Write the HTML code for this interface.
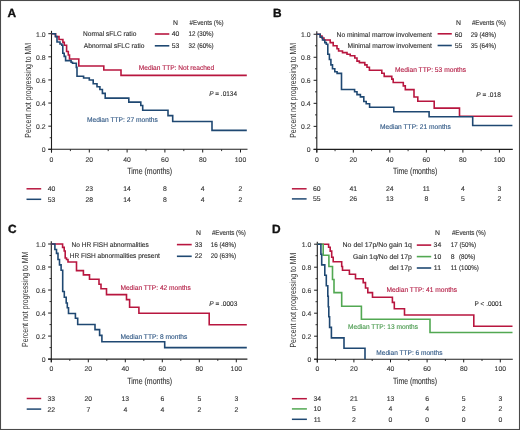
<!DOCTYPE html>
<html><head><meta charset="utf-8"><title>Figure</title>
<style>
html,body{margin:0;padding:0;background:#fff;}
body{width:520px;height:430px;overflow:hidden;}
svg{display:block;font-family:"Liberation Sans", sans-serif;will-change:transform;}
text{text-rendering:geometricPrecision;}
</style></head><body>
<svg width="520" height="430" viewBox="0 0 520 430">
<rect x="0" y="0" width="520" height="430" fill="#fff"/>
<rect x="0.5" y="0.5" width="519" height="429" fill="none" stroke="#4a4a4a" stroke-width="1.1"/>
<text x="7.4" y="17.0" font-size="11.9" fill="#111" font-weight="bold" stroke="#111" stroke-width="0.35">A</text>
<line x1="51.5" y1="30.8" x2="51.5" y2="152.5" stroke="#1e1e1e" stroke-width="1.1"/>
<line x1="48.3" y1="149.3" x2="247.5" y2="149.3" stroke="#1e1e1e" stroke-width="1.1"/>
<line x1="48.3" y1="149.3" x2="51.5" y2="149.3" stroke="#1e1e1e" stroke-width="1.0"/>
<text x="45.6" y="152.2" font-size="6.85" fill="#3a3a3a" stroke="#3a3a3a" stroke-width="0.12" text-anchor="end">0</text>
<line x1="49.7" y1="137.74" x2="51.5" y2="137.74" stroke="#1e1e1e" stroke-width="0.9"/>
<line x1="48.3" y1="126.18" x2="51.5" y2="126.18" stroke="#1e1e1e" stroke-width="1.0"/>
<text x="45.6" y="129.08" font-size="6.85" fill="#3a3a3a" stroke="#3a3a3a" stroke-width="0.12" text-anchor="end">0.2</text>
<line x1="49.7" y1="114.62" x2="51.5" y2="114.62" stroke="#1e1e1e" stroke-width="0.9"/>
<line x1="48.3" y1="103.06" x2="51.5" y2="103.06" stroke="#1e1e1e" stroke-width="1.0"/>
<text x="45.6" y="105.96" font-size="6.85" fill="#3a3a3a" stroke="#3a3a3a" stroke-width="0.12" text-anchor="end">0.4</text>
<line x1="49.7" y1="91.5" x2="51.5" y2="91.5" stroke="#1e1e1e" stroke-width="0.9"/>
<line x1="48.3" y1="79.94" x2="51.5" y2="79.94" stroke="#1e1e1e" stroke-width="1.0"/>
<text x="45.6" y="82.84" font-size="6.85" fill="#3a3a3a" stroke="#3a3a3a" stroke-width="0.12" text-anchor="end">0.6</text>
<line x1="49.7" y1="68.38" x2="51.5" y2="68.38" stroke="#1e1e1e" stroke-width="0.9"/>
<line x1="48.3" y1="56.82" x2="51.5" y2="56.82" stroke="#1e1e1e" stroke-width="1.0"/>
<text x="45.6" y="59.72" font-size="6.85" fill="#3a3a3a" stroke="#3a3a3a" stroke-width="0.12" text-anchor="end">0.8</text>
<line x1="49.7" y1="45.26" x2="51.5" y2="45.26" stroke="#1e1e1e" stroke-width="0.9"/>
<line x1="48.3" y1="33.7" x2="51.5" y2="33.7" stroke="#1e1e1e" stroke-width="1.0"/>
<text x="45.6" y="36.6" font-size="6.85" fill="#3a3a3a" stroke="#3a3a3a" stroke-width="0.12" text-anchor="end">1.0</text>
<line x1="51.5" y1="149.3" x2="51.5" y2="152.5" stroke="#1e1e1e" stroke-width="1.0"/>
<text x="51.5" y="161.6" font-size="6.85" fill="#3a3a3a" stroke="#3a3a3a" stroke-width="0.12" text-anchor="middle">0</text>
<line x1="70.4" y1="149.3" x2="70.4" y2="151.1" stroke="#1e1e1e" stroke-width="0.9"/>
<line x1="89.3" y1="149.3" x2="89.3" y2="152.5" stroke="#1e1e1e" stroke-width="1.0"/>
<text x="89.3" y="161.6" font-size="6.85" fill="#3a3a3a" stroke="#3a3a3a" stroke-width="0.12" text-anchor="middle">20</text>
<line x1="108.2" y1="149.3" x2="108.2" y2="151.1" stroke="#1e1e1e" stroke-width="0.9"/>
<line x1="127.1" y1="149.3" x2="127.1" y2="152.5" stroke="#1e1e1e" stroke-width="1.0"/>
<text x="127.1" y="161.6" font-size="6.85" fill="#3a3a3a" stroke="#3a3a3a" stroke-width="0.12" text-anchor="middle">40</text>
<line x1="146.0" y1="149.3" x2="146.0" y2="151.1" stroke="#1e1e1e" stroke-width="0.9"/>
<line x1="164.9" y1="149.3" x2="164.9" y2="152.5" stroke="#1e1e1e" stroke-width="1.0"/>
<text x="164.9" y="161.6" font-size="6.85" fill="#3a3a3a" stroke="#3a3a3a" stroke-width="0.12" text-anchor="middle">60</text>
<line x1="183.8" y1="149.3" x2="183.8" y2="151.1" stroke="#1e1e1e" stroke-width="0.9"/>
<line x1="202.7" y1="149.3" x2="202.7" y2="152.5" stroke="#1e1e1e" stroke-width="1.0"/>
<text x="202.7" y="161.6" font-size="6.85" fill="#3a3a3a" stroke="#3a3a3a" stroke-width="0.12" text-anchor="middle">80</text>
<line x1="221.6" y1="149.3" x2="221.6" y2="151.1" stroke="#1e1e1e" stroke-width="0.9"/>
<line x1="240.5" y1="149.3" x2="240.5" y2="152.5" stroke="#1e1e1e" stroke-width="1.0"/>
<text x="240.5" y="161.6" font-size="6.85" fill="#3a3a3a" stroke="#3a3a3a" stroke-width="0.12" text-anchor="middle">100</text>
<text x="149.7" y="173.7" font-size="8.9" fill="#333" stroke="#333" stroke-width="0.12" text-anchor="middle" textLength="44.8" lengthAdjust="spacingAndGlyphs">Time (months)</text>
<text x="0" y="0" transform="translate(30.6,90.3) rotate(-90)" font-size="8.9" fill="#333" text-anchor="middle" textLength="94.8" lengthAdjust="spacingAndGlyphs">Percent not progressing to MM</text>
<path d="M51.5,33.7H55.6V36.6H59V39.5H62.9V42.4H64.3V45.3H66.6V51.5H68.3V55H69.5V59H78.8V66H103.8V70H121V75.4H246.8" fill="none" stroke="#b8163f" stroke-width="1.6" stroke-linejoin="miter" stroke-linecap="butt"/>
<path d="M51.5,33.7H55.4V36.5H57V42H60V44H61.8V45.2H62.8V53.2H64.2V56.4H65.6V60.6H71.1V62.2H72.5V63.2H76.3V67.4H77V76.3H83.6V78H89.3V80H93.2V83.8H97V86.7H99.9V89.5H102.4V93.4H105.2V98.1H128.8V102.1H140.8V105.5H142.7V110.2H168V115.6H172.7V121.5H212V130.4H246.8" fill="none" stroke="#1f4872" stroke-width="1.6" stroke-linejoin="miter" stroke-linecap="butt"/>
<text x="175.6" y="24.7" font-size="6.85" fill="#2e2e2e" stroke="#2e2e2e" stroke-width="0.12" text-anchor="middle">N</text>
<text x="189.6" y="24.7" font-size="6.85" fill="#2e2e2e" stroke="#2e2e2e" stroke-width="0.12" textLength="33.9" lengthAdjust="spacingAndGlyphs">#Events (%)</text>
<text x="83.0" y="36.1" font-size="6.85" fill="#2e2e2e" stroke="#2e2e2e" stroke-width="0.12" textLength="53.3" lengthAdjust="spacingAndGlyphs">Normal sFLC ratio</text>
<line x1="154.8" y1="34.0" x2="169.3" y2="34.0" stroke="#b8163f" stroke-width="1.6"/>
<text x="175.6" y="36.1" font-size="6.85" fill="#2e2e2e" stroke="#2e2e2e" stroke-width="0.12" text-anchor="middle">40</text>
<text x="188.5" y="36.1" font-size="6.85" fill="#2e2e2e" stroke="#2e2e2e" stroke-width="0.12" textLength="25.2" lengthAdjust="spacingAndGlyphs">12 (30%)</text>
<text x="83.8" y="48.0" font-size="6.85" fill="#2e2e2e" stroke="#2e2e2e" stroke-width="0.12" textLength="60.6" lengthAdjust="spacingAndGlyphs">Abnormal sFLC ratio</text>
<line x1="154.8" y1="45.8" x2="169.3" y2="45.8" stroke="#1f4872" stroke-width="1.6"/>
<text x="175.6" y="48.0" font-size="6.85" fill="#2e2e2e" stroke="#2e2e2e" stroke-width="0.12" text-anchor="middle">53</text>
<text x="188.5" y="48.0" font-size="6.85" fill="#2e2e2e" stroke="#2e2e2e" stroke-width="0.12" textLength="25.2" lengthAdjust="spacingAndGlyphs">32 (60%)</text>
<text x="138.8" y="70.4" font-size="6.85" fill="#b31b43" stroke="#b31b43" stroke-width="0.12" textLength="75.4" lengthAdjust="spacingAndGlyphs">Median TTP: Not reached</text>
<text x="86.9" y="121.6" font-size="6.85" fill="#2f5784" stroke="#2f5784" stroke-width="0.12" textLength="71.0" lengthAdjust="spacingAndGlyphs">Median TTP: 27 months</text>
<text x="209.2" y="95.8" font-size="6.85" fill="#2e2e2e" stroke="#2e2e2e" stroke-width="0.12" textLength="27.8" lengthAdjust="spacingAndGlyphs"><tspan font-style="italic">P</tspan> = .0134</text>
<line x1="26.5" y1="188.8" x2="41.2" y2="188.8" stroke="#b8163f" stroke-width="1.5"/>
<text x="51.5" y="191.2" font-size="6.85" fill="#333" stroke="#333" stroke-width="0.12" text-anchor="middle">40</text>
<text x="89.3" y="191.2" font-size="6.85" fill="#333" stroke="#333" stroke-width="0.12" text-anchor="middle">23</text>
<text x="127.1" y="191.2" font-size="6.85" fill="#333" stroke="#333" stroke-width="0.12" text-anchor="middle">14</text>
<text x="164.9" y="191.2" font-size="6.85" fill="#333" stroke="#333" stroke-width="0.12" text-anchor="middle">8</text>
<text x="202.7" y="191.2" font-size="6.85" fill="#333" stroke="#333" stroke-width="0.12" text-anchor="middle">4</text>
<text x="240.5" y="191.2" font-size="6.85" fill="#333" stroke="#333" stroke-width="0.12" text-anchor="middle">2</text>
<line x1="26.5" y1="199.3" x2="41.2" y2="199.3" stroke="#1f4872" stroke-width="1.5"/>
<text x="51.5" y="201.7" font-size="6.85" fill="#333" stroke="#333" stroke-width="0.12" text-anchor="middle">53</text>
<text x="89.3" y="201.7" font-size="6.85" fill="#333" stroke="#333" stroke-width="0.12" text-anchor="middle">28</text>
<text x="127.1" y="201.7" font-size="6.85" fill="#333" stroke="#333" stroke-width="0.12" text-anchor="middle">14</text>
<text x="164.9" y="201.7" font-size="6.85" fill="#333" stroke="#333" stroke-width="0.12" text-anchor="middle">8</text>
<text x="202.7" y="201.7" font-size="6.85" fill="#333" stroke="#333" stroke-width="0.12" text-anchor="middle">4</text>
<text x="240.5" y="201.7" font-size="6.85" fill="#333" stroke="#333" stroke-width="0.12" text-anchor="middle">2</text>
<text x="273.0" y="17.0" font-size="11.9" fill="#111" font-weight="bold" stroke="#111" stroke-width="0.35">B</text>
<line x1="316.8" y1="31.2" x2="316.8" y2="152.6" stroke="#1e1e1e" stroke-width="1.1"/>
<line x1="313.6" y1="149.4" x2="512.8" y2="149.4" stroke="#1e1e1e" stroke-width="1.1"/>
<line x1="313.6" y1="149.4" x2="316.8" y2="149.4" stroke="#1e1e1e" stroke-width="1.0"/>
<text x="310.6" y="152.3" font-size="6.85" fill="#3a3a3a" stroke="#3a3a3a" stroke-width="0.12" text-anchor="end">0</text>
<line x1="315.0" y1="137.88" x2="316.8" y2="137.88" stroke="#1e1e1e" stroke-width="0.9"/>
<line x1="313.6" y1="126.37" x2="316.8" y2="126.37" stroke="#1e1e1e" stroke-width="1.0"/>
<text x="310.6" y="129.27" font-size="6.85" fill="#3a3a3a" stroke="#3a3a3a" stroke-width="0.12" text-anchor="end">0.2</text>
<line x1="315.0" y1="114.86" x2="316.8" y2="114.86" stroke="#1e1e1e" stroke-width="0.9"/>
<line x1="313.6" y1="103.34" x2="316.8" y2="103.34" stroke="#1e1e1e" stroke-width="1.0"/>
<text x="310.6" y="106.24" font-size="6.85" fill="#3a3a3a" stroke="#3a3a3a" stroke-width="0.12" text-anchor="end">0.4</text>
<line x1="315.0" y1="91.83" x2="316.8" y2="91.83" stroke="#1e1e1e" stroke-width="0.9"/>
<line x1="313.6" y1="80.31" x2="316.8" y2="80.31" stroke="#1e1e1e" stroke-width="1.0"/>
<text x="310.6" y="83.21" font-size="6.85" fill="#3a3a3a" stroke="#3a3a3a" stroke-width="0.12" text-anchor="end">0.6</text>
<line x1="315.0" y1="68.8" x2="316.8" y2="68.8" stroke="#1e1e1e" stroke-width="0.9"/>
<line x1="313.6" y1="57.28" x2="316.8" y2="57.28" stroke="#1e1e1e" stroke-width="1.0"/>
<text x="310.6" y="60.18" font-size="6.85" fill="#3a3a3a" stroke="#3a3a3a" stroke-width="0.12" text-anchor="end">0.8</text>
<line x1="315.0" y1="45.77" x2="316.8" y2="45.77" stroke="#1e1e1e" stroke-width="0.9"/>
<line x1="313.6" y1="34.25" x2="316.8" y2="34.25" stroke="#1e1e1e" stroke-width="1.0"/>
<text x="310.6" y="37.15" font-size="6.85" fill="#3a3a3a" stroke="#3a3a3a" stroke-width="0.12" text-anchor="end">1.0</text>
<line x1="316.8" y1="149.4" x2="316.8" y2="152.6" stroke="#1e1e1e" stroke-width="1.0"/>
<text x="316.8" y="161.7" font-size="6.85" fill="#3a3a3a" stroke="#3a3a3a" stroke-width="0.12" text-anchor="middle">0</text>
<line x1="335.06" y1="149.4" x2="335.06" y2="151.2" stroke="#1e1e1e" stroke-width="0.9"/>
<line x1="353.32" y1="149.4" x2="353.32" y2="152.6" stroke="#1e1e1e" stroke-width="1.0"/>
<text x="353.32" y="161.7" font-size="6.85" fill="#3a3a3a" stroke="#3a3a3a" stroke-width="0.12" text-anchor="middle">20</text>
<line x1="371.58" y1="149.4" x2="371.58" y2="151.2" stroke="#1e1e1e" stroke-width="0.9"/>
<line x1="389.84" y1="149.4" x2="389.84" y2="152.6" stroke="#1e1e1e" stroke-width="1.0"/>
<text x="389.84" y="161.7" font-size="6.85" fill="#3a3a3a" stroke="#3a3a3a" stroke-width="0.12" text-anchor="middle">40</text>
<line x1="408.1" y1="149.4" x2="408.1" y2="151.2" stroke="#1e1e1e" stroke-width="0.9"/>
<line x1="426.36" y1="149.4" x2="426.36" y2="152.6" stroke="#1e1e1e" stroke-width="1.0"/>
<text x="426.36" y="161.7" font-size="6.85" fill="#3a3a3a" stroke="#3a3a3a" stroke-width="0.12" text-anchor="middle">60</text>
<line x1="444.62" y1="149.4" x2="444.62" y2="151.2" stroke="#1e1e1e" stroke-width="0.9"/>
<line x1="462.88" y1="149.4" x2="462.88" y2="152.6" stroke="#1e1e1e" stroke-width="1.0"/>
<text x="462.88" y="161.7" font-size="6.85" fill="#3a3a3a" stroke="#3a3a3a" stroke-width="0.12" text-anchor="middle">80</text>
<line x1="481.14" y1="149.4" x2="481.14" y2="151.2" stroke="#1e1e1e" stroke-width="0.9"/>
<line x1="499.4" y1="149.4" x2="499.4" y2="152.6" stroke="#1e1e1e" stroke-width="1.0"/>
<text x="499.4" y="161.7" font-size="6.85" fill="#3a3a3a" stroke="#3a3a3a" stroke-width="0.12" text-anchor="middle">100</text>
<text x="415.2" y="174.0" font-size="8.9" fill="#333" stroke="#333" stroke-width="0.12" text-anchor="middle" textLength="44.2" lengthAdjust="spacingAndGlyphs">Time (months)</text>
<text x="0" y="0" transform="translate(295.8,90.4) rotate(-90)" font-size="8.9" fill="#333" text-anchor="middle" textLength="94.8" lengthAdjust="spacingAndGlyphs">Percent not progressing to MM</text>
<path d="M316.8,34.25H320.2V36H322V38H324V40H330.2V42.6H333.2V45.7H337V48.8H338.6V51H342.5V52.6H347V54.2H350.2V55.7H354.8V58H357V61.1H359.4V62.6H364.8V64.9H367V67.2H369.4V70.3H381.8V73.2H384.2V76.4H391.8V79.1H393.2V82.5H403.3V85.9H405.3V89.6H414V97H417.8V101.3H434.2V108.1H459.5V116.2H512.4" fill="none" stroke="#b8163f" stroke-width="1.6" stroke-linejoin="miter" stroke-linecap="butt"/>
<path d="M316.8,34.25H320.2V37.2H322.5V40H324.8V42.6H326.3V44.2H327.8V54.2H329.4V59.5H330.9V64.9H332.5V68.8H334.8V71.8H337.1V73.4H341.5V89.5H354.6V91.8H357V94.6H360.4V96.9H363.8V101.5H366.2V103.8H369.6V107.3H393.8V111.7H429.1V116.8H472.7V125.5H512.4" fill="none" stroke="#1f4872" stroke-width="1.6" stroke-linejoin="miter" stroke-linecap="butt"/>
<text x="458.6" y="24.7" font-size="6.85" fill="#2e2e2e" stroke="#2e2e2e" stroke-width="0.12" text-anchor="middle">N</text>
<text x="471.9" y="24.7" font-size="6.85" fill="#2e2e2e" stroke="#2e2e2e" stroke-width="0.12" textLength="33.9" lengthAdjust="spacingAndGlyphs">#Events (%)</text>
<text x="431.8" y="36.5" font-size="6.85" fill="#2e2e2e" stroke="#2e2e2e" stroke-width="0.12" text-anchor="end" textLength="95.2" lengthAdjust="spacingAndGlyphs">No minimal marrow involvement</text>
<line x1="437.6" y1="33.8" x2="451.8" y2="33.8" stroke="#b8163f" stroke-width="1.6"/>
<text x="458.6" y="36.5" font-size="6.85" fill="#2e2e2e" stroke="#2e2e2e" stroke-width="0.12" text-anchor="middle">60</text>
<text x="470.8" y="36.5" font-size="6.85" fill="#2e2e2e" stroke="#2e2e2e" stroke-width="0.12" textLength="25.2" lengthAdjust="spacingAndGlyphs">29 (48%)</text>
<text x="431.8" y="48.0" font-size="6.85" fill="#2e2e2e" stroke="#2e2e2e" stroke-width="0.12" text-anchor="end" textLength="84.2" lengthAdjust="spacingAndGlyphs">Minimal marrow involvement</text>
<line x1="437.6" y1="45.5" x2="451.8" y2="45.5" stroke="#1f4872" stroke-width="1.6"/>
<text x="458.6" y="48.0" font-size="6.85" fill="#2e2e2e" stroke="#2e2e2e" stroke-width="0.12" text-anchor="middle">55</text>
<text x="470.8" y="48.0" font-size="6.85" fill="#2e2e2e" stroke="#2e2e2e" stroke-width="0.12" textLength="25.2" lengthAdjust="spacingAndGlyphs">35 (64%)</text>
<text x="395.0" y="71.8" font-size="6.85" fill="#b31b43" stroke="#b31b43" stroke-width="0.12" textLength="71.0" lengthAdjust="spacingAndGlyphs">Median TTP: 53 months</text>
<text x="380.0" y="128.5" font-size="6.85" fill="#2f5784" stroke="#2f5784" stroke-width="0.12" textLength="70.8" lengthAdjust="spacingAndGlyphs">Median TTP: 21 months</text>
<text x="476.2" y="96.9" font-size="6.85" fill="#2e2e2e" stroke="#2e2e2e" stroke-width="0.12" textLength="24.6" lengthAdjust="spacingAndGlyphs"><tspan font-style="italic">P</tspan> = .018</text>
<line x1="291.9" y1="188.8" x2="306.6" y2="188.8" stroke="#b8163f" stroke-width="1.5"/>
<text x="316.8" y="191.2" font-size="6.85" fill="#333" stroke="#333" stroke-width="0.12" text-anchor="middle">60</text>
<text x="353.32" y="191.2" font-size="6.85" fill="#333" stroke="#333" stroke-width="0.12" text-anchor="middle">41</text>
<text x="389.84" y="191.2" font-size="6.85" fill="#333" stroke="#333" stroke-width="0.12" text-anchor="middle">24</text>
<text x="426.36" y="191.2" font-size="6.85" fill="#333" stroke="#333" stroke-width="0.12" text-anchor="middle">11</text>
<text x="462.88" y="191.2" font-size="6.85" fill="#333" stroke="#333" stroke-width="0.12" text-anchor="middle">4</text>
<text x="499.4" y="191.2" font-size="6.85" fill="#333" stroke="#333" stroke-width="0.12" text-anchor="middle">3</text>
<line x1="291.9" y1="198.9" x2="306.6" y2="198.9" stroke="#1f4872" stroke-width="1.5"/>
<text x="316.8" y="201.3" font-size="6.85" fill="#333" stroke="#333" stroke-width="0.12" text-anchor="middle">55</text>
<text x="353.32" y="201.3" font-size="6.85" fill="#333" stroke="#333" stroke-width="0.12" text-anchor="middle">26</text>
<text x="389.84" y="201.3" font-size="6.85" fill="#333" stroke="#333" stroke-width="0.12" text-anchor="middle">13</text>
<text x="426.36" y="201.3" font-size="6.85" fill="#333" stroke="#333" stroke-width="0.12" text-anchor="middle">8</text>
<text x="462.88" y="201.3" font-size="6.85" fill="#333" stroke="#333" stroke-width="0.12" text-anchor="middle">5</text>
<text x="499.4" y="201.3" font-size="6.85" fill="#333" stroke="#333" stroke-width="0.12" text-anchor="middle">2</text>
<text x="7.9" y="232.9" font-size="11.9" fill="#111" font-weight="bold" stroke="#111" stroke-width="0.35">C</text>
<line x1="51.3" y1="241.2" x2="51.3" y2="362.3" stroke="#1e1e1e" stroke-width="1.1"/>
<line x1="48.1" y1="359.1" x2="247.4" y2="359.1" stroke="#1e1e1e" stroke-width="1.1"/>
<line x1="48.1" y1="359.1" x2="51.3" y2="359.1" stroke="#1e1e1e" stroke-width="1.0"/>
<text x="45.6" y="362.0" font-size="6.85" fill="#3a3a3a" stroke="#3a3a3a" stroke-width="0.12" text-anchor="end">0</text>
<line x1="49.5" y1="347.59" x2="51.3" y2="347.59" stroke="#1e1e1e" stroke-width="0.9"/>
<line x1="48.1" y1="336.08" x2="51.3" y2="336.08" stroke="#1e1e1e" stroke-width="1.0"/>
<text x="45.6" y="338.98" font-size="6.85" fill="#3a3a3a" stroke="#3a3a3a" stroke-width="0.12" text-anchor="end">0.2</text>
<line x1="49.5" y1="324.57" x2="51.3" y2="324.57" stroke="#1e1e1e" stroke-width="0.9"/>
<line x1="48.1" y1="313.06" x2="51.3" y2="313.06" stroke="#1e1e1e" stroke-width="1.0"/>
<text x="45.6" y="315.96" font-size="6.85" fill="#3a3a3a" stroke="#3a3a3a" stroke-width="0.12" text-anchor="end">0.4</text>
<line x1="49.5" y1="301.55" x2="51.3" y2="301.55" stroke="#1e1e1e" stroke-width="0.9"/>
<line x1="48.1" y1="290.04" x2="51.3" y2="290.04" stroke="#1e1e1e" stroke-width="1.0"/>
<text x="45.6" y="292.94" font-size="6.85" fill="#3a3a3a" stroke="#3a3a3a" stroke-width="0.12" text-anchor="end">0.6</text>
<line x1="49.5" y1="278.53" x2="51.3" y2="278.53" stroke="#1e1e1e" stroke-width="0.9"/>
<line x1="48.1" y1="267.02" x2="51.3" y2="267.02" stroke="#1e1e1e" stroke-width="1.0"/>
<text x="45.6" y="269.92" font-size="6.85" fill="#3a3a3a" stroke="#3a3a3a" stroke-width="0.12" text-anchor="end">0.8</text>
<line x1="49.5" y1="255.51" x2="51.3" y2="255.51" stroke="#1e1e1e" stroke-width="0.9"/>
<line x1="48.1" y1="244.0" x2="51.3" y2="244.0" stroke="#1e1e1e" stroke-width="1.0"/>
<text x="45.6" y="246.9" font-size="6.85" fill="#3a3a3a" stroke="#3a3a3a" stroke-width="0.12" text-anchor="end">1.0</text>
<line x1="51.3" y1="359.1" x2="51.3" y2="362.3" stroke="#1e1e1e" stroke-width="1.0"/>
<text x="51.3" y="371.4" font-size="6.85" fill="#3a3a3a" stroke="#3a3a3a" stroke-width="0.12" text-anchor="middle">0</text>
<line x1="69.8" y1="359.1" x2="69.8" y2="360.9" stroke="#1e1e1e" stroke-width="0.9"/>
<line x1="88.3" y1="359.1" x2="88.3" y2="362.3" stroke="#1e1e1e" stroke-width="1.0"/>
<text x="88.3" y="371.4" font-size="6.85" fill="#3a3a3a" stroke="#3a3a3a" stroke-width="0.12" text-anchor="middle">20</text>
<line x1="106.8" y1="359.1" x2="106.8" y2="360.9" stroke="#1e1e1e" stroke-width="0.9"/>
<line x1="125.3" y1="359.1" x2="125.3" y2="362.3" stroke="#1e1e1e" stroke-width="1.0"/>
<text x="125.3" y="371.4" font-size="6.85" fill="#3a3a3a" stroke="#3a3a3a" stroke-width="0.12" text-anchor="middle">40</text>
<line x1="143.8" y1="359.1" x2="143.8" y2="360.9" stroke="#1e1e1e" stroke-width="0.9"/>
<line x1="162.3" y1="359.1" x2="162.3" y2="362.3" stroke="#1e1e1e" stroke-width="1.0"/>
<text x="162.3" y="371.4" font-size="6.85" fill="#3a3a3a" stroke="#3a3a3a" stroke-width="0.12" text-anchor="middle">60</text>
<line x1="180.8" y1="359.1" x2="180.8" y2="360.9" stroke="#1e1e1e" stroke-width="0.9"/>
<line x1="199.3" y1="359.1" x2="199.3" y2="362.3" stroke="#1e1e1e" stroke-width="1.0"/>
<text x="199.3" y="371.4" font-size="6.85" fill="#3a3a3a" stroke="#3a3a3a" stroke-width="0.12" text-anchor="middle">80</text>
<line x1="217.8" y1="359.1" x2="217.8" y2="360.9" stroke="#1e1e1e" stroke-width="0.9"/>
<line x1="236.3" y1="359.1" x2="236.3" y2="362.3" stroke="#1e1e1e" stroke-width="1.0"/>
<text x="236.3" y="371.4" font-size="6.85" fill="#3a3a3a" stroke="#3a3a3a" stroke-width="0.12" text-anchor="middle">100</text>
<text x="149.7" y="383.8" font-size="8.9" fill="#333" stroke="#333" stroke-width="0.12" text-anchor="middle" textLength="44.8" lengthAdjust="spacingAndGlyphs">Time (months)</text>
<text x="0" y="0" transform="translate(28.0,299.3) rotate(-90)" font-size="8.9" fill="#333" text-anchor="middle" textLength="95.4" lengthAdjust="spacingAndGlyphs">Percent not progressing to MM</text>
<path d="M51.3,244.0H62.6V247.4H64.2V251H65.2V258H66.5V259.5H68V262H76.5V270.6H83.4V274.9H89.5V279.2H99V284.2H101V288.8H106.5V294.6H126.5V299.6H129.6V307.2H138.9V313.3H209.2V324.7H246.8" fill="none" stroke="#b8163f" stroke-width="1.6" stroke-linejoin="miter" stroke-linecap="butt"/>
<path d="M51.3,244.0H54.9V249.5H56.5V253.4H58V259.5H59.5V264.9H61.1V270.3H62.7V291.5H64.3V297.3H66.2V303H67.3V307.7H68.5V313.5H75.4V318.2H77.7V324.5H95V329.6H99.6V335.4H101.9V341.8H164.7V347.6H246.8" fill="none" stroke="#1f4872" stroke-width="1.6" stroke-linejoin="miter" stroke-linecap="butt"/>
<text x="198.5" y="235.4" font-size="6.85" fill="#2e2e2e" stroke="#2e2e2e" stroke-width="0.12" text-anchor="middle">N</text>
<text x="211.9" y="235.4" font-size="6.85" fill="#2e2e2e" stroke="#2e2e2e" stroke-width="0.12" textLength="33.9" lengthAdjust="spacingAndGlyphs">#Events (%)</text>
<text x="71.5" y="246.9" font-size="6.85" fill="#2e2e2e" stroke="#2e2e2e" stroke-width="0.12" textLength="77.3" lengthAdjust="spacingAndGlyphs">No HR FISH abnormalities</text>
<line x1="176.9" y1="244.6" x2="191.7" y2="244.6" stroke="#b8163f" stroke-width="1.6"/>
<text x="198.5" y="246.9" font-size="6.85" fill="#2e2e2e" stroke="#2e2e2e" stroke-width="0.12" text-anchor="middle">33</text>
<text x="210.8" y="246.9" font-size="6.85" fill="#2e2e2e" stroke="#2e2e2e" stroke-width="0.12" textLength="25.2" lengthAdjust="spacingAndGlyphs">16 (48%)</text>
<text x="69.7" y="258.2" font-size="6.85" fill="#2e2e2e" stroke="#2e2e2e" stroke-width="0.12" textLength="90.2" lengthAdjust="spacingAndGlyphs">HR FISH abnormalities present</text>
<line x1="176.9" y1="256.3" x2="191.7" y2="256.3" stroke="#1f4872" stroke-width="1.6"/>
<text x="198.5" y="258.2" font-size="6.85" fill="#2e2e2e" stroke="#2e2e2e" stroke-width="0.12" text-anchor="middle">22</text>
<text x="210.8" y="258.2" font-size="6.85" fill="#2e2e2e" stroke="#2e2e2e" stroke-width="0.12" textLength="25.2" lengthAdjust="spacingAndGlyphs">20 (63%)</text>
<text x="120.4" y="289.8" font-size="6.85" fill="#b31b43" stroke="#b31b43" stroke-width="0.12" textLength="70.4" lengthAdjust="spacingAndGlyphs">Median TTP: 42 months</text>
<text x="120.4" y="338.7" font-size="6.85" fill="#2f5784" stroke="#2f5784" stroke-width="0.12" textLength="66.9" lengthAdjust="spacingAndGlyphs">Median TTP: 8 months</text>
<text x="209.2" y="306.3" font-size="6.85" fill="#2e2e2e" stroke="#2e2e2e" stroke-width="0.12" textLength="28.2" lengthAdjust="spacingAndGlyphs"><tspan font-style="italic">P</tspan> = .0003</text>
<line x1="26.7" y1="398.5" x2="41.2" y2="398.5" stroke="#b8163f" stroke-width="1.5"/>
<text x="51.3" y="400.9" font-size="6.85" fill="#333" stroke="#333" stroke-width="0.12" text-anchor="middle">33</text>
<text x="88.3" y="400.9" font-size="6.85" fill="#333" stroke="#333" stroke-width="0.12" text-anchor="middle">20</text>
<text x="125.3" y="400.9" font-size="6.85" fill="#333" stroke="#333" stroke-width="0.12" text-anchor="middle">13</text>
<text x="162.3" y="400.9" font-size="6.85" fill="#333" stroke="#333" stroke-width="0.12" text-anchor="middle">6</text>
<text x="199.3" y="400.9" font-size="6.85" fill="#333" stroke="#333" stroke-width="0.12" text-anchor="middle">5</text>
<text x="236.3" y="400.9" font-size="6.85" fill="#333" stroke="#333" stroke-width="0.12" text-anchor="middle">3</text>
<line x1="26.7" y1="409.1" x2="41.2" y2="409.1" stroke="#1f4872" stroke-width="1.5"/>
<text x="51.3" y="411.5" font-size="6.85" fill="#333" stroke="#333" stroke-width="0.12" text-anchor="middle">22</text>
<text x="88.3" y="411.5" font-size="6.85" fill="#333" stroke="#333" stroke-width="0.12" text-anchor="middle">7</text>
<text x="125.3" y="411.5" font-size="6.85" fill="#333" stroke="#333" stroke-width="0.12" text-anchor="middle">4</text>
<text x="162.3" y="411.5" font-size="6.85" fill="#333" stroke="#333" stroke-width="0.12" text-anchor="middle">4</text>
<text x="199.3" y="411.5" font-size="6.85" fill="#333" stroke="#333" stroke-width="0.12" text-anchor="middle">2</text>
<text x="236.3" y="411.5" font-size="6.85" fill="#333" stroke="#333" stroke-width="0.12" text-anchor="middle">2</text>
<text x="272.0" y="232.9" font-size="11.9" fill="#111" font-weight="bold" stroke="#111" stroke-width="0.35">D</text>
<line x1="317.3" y1="241.7" x2="317.3" y2="362.4" stroke="#1e1e1e" stroke-width="1.1"/>
<line x1="314.1" y1="359.2" x2="512.8" y2="359.2" stroke="#1e1e1e" stroke-width="1.1"/>
<line x1="314.1" y1="359.2" x2="317.3" y2="359.2" stroke="#1e1e1e" stroke-width="1.0"/>
<text x="311.3" y="362.1" font-size="6.85" fill="#3a3a3a" stroke="#3a3a3a" stroke-width="0.12" text-anchor="end">0</text>
<line x1="315.5" y1="347.7" x2="317.3" y2="347.7" stroke="#1e1e1e" stroke-width="0.9"/>
<line x1="314.1" y1="336.2" x2="317.3" y2="336.2" stroke="#1e1e1e" stroke-width="1.0"/>
<text x="311.3" y="339.1" font-size="6.85" fill="#3a3a3a" stroke="#3a3a3a" stroke-width="0.12" text-anchor="end">0.2</text>
<line x1="315.5" y1="324.7" x2="317.3" y2="324.7" stroke="#1e1e1e" stroke-width="0.9"/>
<line x1="314.1" y1="313.2" x2="317.3" y2="313.2" stroke="#1e1e1e" stroke-width="1.0"/>
<text x="311.3" y="316.1" font-size="6.85" fill="#3a3a3a" stroke="#3a3a3a" stroke-width="0.12" text-anchor="end">0.4</text>
<line x1="315.5" y1="301.7" x2="317.3" y2="301.7" stroke="#1e1e1e" stroke-width="0.9"/>
<line x1="314.1" y1="290.2" x2="317.3" y2="290.2" stroke="#1e1e1e" stroke-width="1.0"/>
<text x="311.3" y="293.1" font-size="6.85" fill="#3a3a3a" stroke="#3a3a3a" stroke-width="0.12" text-anchor="end">0.6</text>
<line x1="315.5" y1="278.7" x2="317.3" y2="278.7" stroke="#1e1e1e" stroke-width="0.9"/>
<line x1="314.1" y1="267.2" x2="317.3" y2="267.2" stroke="#1e1e1e" stroke-width="1.0"/>
<text x="311.3" y="270.1" font-size="6.85" fill="#3a3a3a" stroke="#3a3a3a" stroke-width="0.12" text-anchor="end">0.8</text>
<line x1="315.5" y1="255.7" x2="317.3" y2="255.7" stroke="#1e1e1e" stroke-width="0.9"/>
<line x1="314.1" y1="244.2" x2="317.3" y2="244.2" stroke="#1e1e1e" stroke-width="1.0"/>
<text x="311.3" y="247.1" font-size="6.85" fill="#3a3a3a" stroke="#3a3a3a" stroke-width="0.12" text-anchor="end">1.0</text>
<line x1="317.3" y1="359.2" x2="317.3" y2="362.4" stroke="#1e1e1e" stroke-width="1.0"/>
<text x="317.3" y="371.4" font-size="6.85" fill="#3a3a3a" stroke="#3a3a3a" stroke-width="0.12" text-anchor="middle">0</text>
<line x1="335.6" y1="359.2" x2="335.6" y2="361.0" stroke="#1e1e1e" stroke-width="0.9"/>
<line x1="353.9" y1="359.2" x2="353.9" y2="362.4" stroke="#1e1e1e" stroke-width="1.0"/>
<text x="353.9" y="371.4" font-size="6.85" fill="#3a3a3a" stroke="#3a3a3a" stroke-width="0.12" text-anchor="middle">20</text>
<line x1="372.2" y1="359.2" x2="372.2" y2="361.0" stroke="#1e1e1e" stroke-width="0.9"/>
<line x1="390.5" y1="359.2" x2="390.5" y2="362.4" stroke="#1e1e1e" stroke-width="1.0"/>
<text x="390.5" y="371.4" font-size="6.85" fill="#3a3a3a" stroke="#3a3a3a" stroke-width="0.12" text-anchor="middle">40</text>
<line x1="408.8" y1="359.2" x2="408.8" y2="361.0" stroke="#1e1e1e" stroke-width="0.9"/>
<line x1="427.1" y1="359.2" x2="427.1" y2="362.4" stroke="#1e1e1e" stroke-width="1.0"/>
<text x="427.1" y="371.4" font-size="6.85" fill="#3a3a3a" stroke="#3a3a3a" stroke-width="0.12" text-anchor="middle">60</text>
<line x1="445.4" y1="359.2" x2="445.4" y2="361.0" stroke="#1e1e1e" stroke-width="0.9"/>
<line x1="463.7" y1="359.2" x2="463.7" y2="362.4" stroke="#1e1e1e" stroke-width="1.0"/>
<text x="463.7" y="371.4" font-size="6.85" fill="#3a3a3a" stroke="#3a3a3a" stroke-width="0.12" text-anchor="middle">80</text>
<line x1="482.0" y1="359.2" x2="482.0" y2="361.0" stroke="#1e1e1e" stroke-width="0.9"/>
<line x1="500.3" y1="359.2" x2="500.3" y2="362.4" stroke="#1e1e1e" stroke-width="1.0"/>
<text x="500.3" y="371.4" font-size="6.85" fill="#3a3a3a" stroke="#3a3a3a" stroke-width="0.12" text-anchor="middle">100</text>
<text x="415.0" y="384.0" font-size="8.9" fill="#333" stroke="#333" stroke-width="0.12" text-anchor="middle" textLength="44.2" lengthAdjust="spacingAndGlyphs">Time (months)</text>
<text x="0" y="0" transform="translate(295.9,300.15) rotate(-90)" font-size="8.9" fill="#333" text-anchor="middle" textLength="94.7" lengthAdjust="spacingAndGlyphs">Percent not progressing to MM</text>
<path d="M317.3,244.2H328.6V247.3H330.2V251.1H331.7V257.2H333.2V261.8H341.7V266.5H342.5V270.3H349.4V274.2H355.5V278.8H363.2V282.6H365.5V288H367.8V292.6H372.5V297.2H392.4V302.4H394.3V308.8H404.5V315H473.8V326.2H512.5" fill="none" stroke="#b8163f" stroke-width="1.6" stroke-linejoin="miter" stroke-linecap="butt"/>
<path d="M317.3,244.2H323.2V255.2H328.9V266.5H332.5V279.5H334V292.6H341.7V306.3H361.4V319.3H430V332.5H512.5" fill="none" stroke="#52a852" stroke-width="1.6" stroke-linejoin="miter" stroke-linecap="butt"/>
<path d="M317.3,244.2H320.9V254.2H321.7V264.9H324.8V275.2H326.3V285.8H327.8V296.3H328.3V306.8H328.8V316.8H329.6V327.4H331.4V337.9H344V348.3H365V359.2H365" fill="none" stroke="#1f4872" stroke-width="1.6" stroke-linejoin="miter" stroke-linecap="butt"/>
<text x="437.4" y="235.4" font-size="6.85" fill="#2e2e2e" stroke="#2e2e2e" stroke-width="0.12" text-anchor="middle">N</text>
<text x="451.9" y="235.4" font-size="6.85" fill="#2e2e2e" stroke="#2e2e2e" stroke-width="0.12" textLength="33.9" lengthAdjust="spacingAndGlyphs">#Events (%)</text>
<text x="411.9" y="247.0" font-size="6.85" fill="#2e2e2e" stroke="#2e2e2e" stroke-width="0.12" text-anchor="end" textLength="69.3" lengthAdjust="spacingAndGlyphs">No del 17p/No gain 1q</text>
<line x1="416.8" y1="245.1" x2="431.2" y2="245.1" stroke="#b8163f" stroke-width="1.6"/>
<text x="437.4" y="247.0" font-size="6.85" fill="#2e2e2e" stroke="#2e2e2e" stroke-width="0.12" text-anchor="middle">34</text>
<text x="450.8" y="247.0" font-size="6.85" fill="#2e2e2e" stroke="#2e2e2e" stroke-width="0.12" textLength="25.2" lengthAdjust="spacingAndGlyphs">17 (50%)</text>
<text x="411.9" y="259.2" font-size="6.85" fill="#2e2e2e" stroke="#2e2e2e" stroke-width="0.12" text-anchor="end" textLength="58.9" lengthAdjust="spacingAndGlyphs">Gain 1q/No del 17p</text>
<line x1="416.8" y1="256.6" x2="431.2" y2="256.6" stroke="#52a852" stroke-width="1.6"/>
<text x="437.4" y="259.2" font-size="6.85" fill="#2e2e2e" stroke="#2e2e2e" stroke-width="0.12" text-anchor="middle">10</text>
<text x="450.8" y="259.2" font-size="6.85" fill="#2e2e2e" stroke="#2e2e2e" stroke-width="0.12">8</text>
<text x="459.0" y="259.2" font-size="6.85" fill="#2e2e2e" stroke="#2e2e2e" stroke-width="0.12" textLength="16.4" lengthAdjust="spacingAndGlyphs">(80%)</text>
<text x="411.9" y="270.2" font-size="6.85" fill="#2e2e2e" stroke="#2e2e2e" stroke-width="0.12" text-anchor="end" textLength="22.7" lengthAdjust="spacingAndGlyphs">del 17p</text>
<line x1="416.8" y1="268.0" x2="431.2" y2="268.0" stroke="#1f4872" stroke-width="1.6"/>
<text x="437.4" y="270.2" font-size="6.85" fill="#2e2e2e" stroke="#2e2e2e" stroke-width="0.12" text-anchor="middle">11</text>
<text x="450.8" y="270.2" font-size="6.85" fill="#2e2e2e" stroke="#2e2e2e" stroke-width="0.12" textLength="28.0" lengthAdjust="spacingAndGlyphs">11 (100%)</text>
<text x="457.0" y="291.6" font-size="6.85" fill="#b31b43" stroke="#b31b43" stroke-width="0.12" text-anchor="end" textLength="70.6" lengthAdjust="spacingAndGlyphs">Median TTP: 41 months</text>
<text x="418.0" y="328.6" font-size="6.85" fill="#46984a" stroke="#46984a" stroke-width="0.12" text-anchor="end" textLength="70.0" lengthAdjust="spacingAndGlyphs">Median TTP: 13 months</text>
<text x="442.5" y="355.0" font-size="6.85" fill="#2f5784" stroke="#2f5784" stroke-width="0.12" text-anchor="end" textLength="66.2" lengthAdjust="spacingAndGlyphs">Median TTP: 6 months</text>
<text x="474.6" y="305.9" font-size="6.85" fill="#2e2e2e" stroke="#2e2e2e" stroke-width="0.12" textLength="27.7" lengthAdjust="spacingAndGlyphs">P &lt; .0001</text>
<line x1="291.9" y1="398.7" x2="306.9" y2="398.7" stroke="#b8163f" stroke-width="1.5"/>
<text x="317.3" y="401.1" font-size="6.85" fill="#333" stroke="#333" stroke-width="0.12" text-anchor="middle">34</text>
<text x="353.9" y="401.1" font-size="6.85" fill="#333" stroke="#333" stroke-width="0.12" text-anchor="middle">21</text>
<text x="390.5" y="401.1" font-size="6.85" fill="#333" stroke="#333" stroke-width="0.12" text-anchor="middle">13</text>
<text x="427.1" y="401.1" font-size="6.85" fill="#333" stroke="#333" stroke-width="0.12" text-anchor="middle">6</text>
<text x="463.7" y="401.1" font-size="6.85" fill="#333" stroke="#333" stroke-width="0.12" text-anchor="middle">5</text>
<text x="500.3" y="401.1" font-size="6.85" fill="#333" stroke="#333" stroke-width="0.12" text-anchor="middle">3</text>
<line x1="291.9" y1="408.9" x2="306.9" y2="408.9" stroke="#52a852" stroke-width="1.5"/>
<text x="317.3" y="411.3" font-size="6.85" fill="#333" stroke="#333" stroke-width="0.12" text-anchor="middle">10</text>
<text x="353.9" y="411.3" font-size="6.85" fill="#333" stroke="#333" stroke-width="0.12" text-anchor="middle">5</text>
<text x="390.5" y="411.3" font-size="6.85" fill="#333" stroke="#333" stroke-width="0.12" text-anchor="middle">4</text>
<text x="427.1" y="411.3" font-size="6.85" fill="#333" stroke="#333" stroke-width="0.12" text-anchor="middle">4</text>
<text x="463.7" y="411.3" font-size="6.85" fill="#333" stroke="#333" stroke-width="0.12" text-anchor="middle">2</text>
<text x="500.3" y="411.3" font-size="6.85" fill="#333" stroke="#333" stroke-width="0.12" text-anchor="middle">2</text>
<line x1="291.9" y1="419.3" x2="306.9" y2="419.3" stroke="#1f4872" stroke-width="1.5"/>
<text x="317.3" y="421.7" font-size="6.85" fill="#333" stroke="#333" stroke-width="0.12" text-anchor="middle">11</text>
<text x="353.9" y="421.7" font-size="6.85" fill="#333" stroke="#333" stroke-width="0.12" text-anchor="middle">2</text>
<text x="390.5" y="421.7" font-size="6.85" fill="#333" stroke="#333" stroke-width="0.12" text-anchor="middle">0</text>
<text x="427.1" y="421.7" font-size="6.85" fill="#333" stroke="#333" stroke-width="0.12" text-anchor="middle">0</text>
<text x="463.7" y="421.7" font-size="6.85" fill="#333" stroke="#333" stroke-width="0.12" text-anchor="middle">0</text>
<text x="500.3" y="421.7" font-size="6.85" fill="#333" stroke="#333" stroke-width="0.12" text-anchor="middle">0</text>
</svg>
</body></html>
